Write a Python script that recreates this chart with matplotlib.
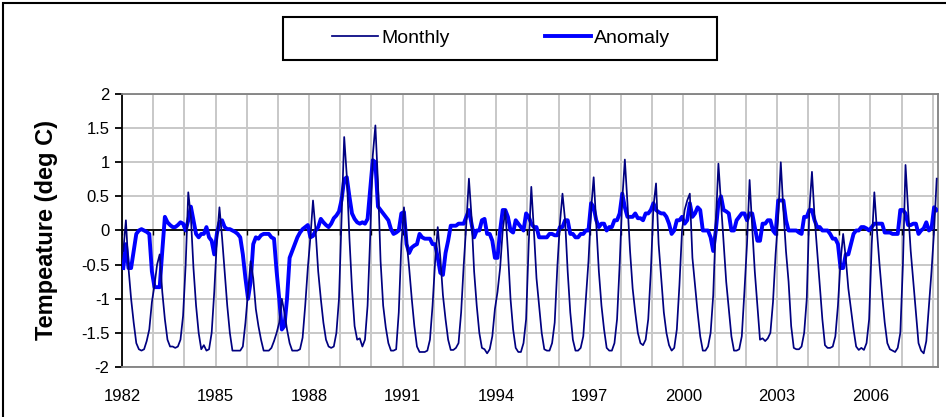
import numpy as np
import matplotlib
matplotlib.use('Agg')  # no display
import matplotlib.pyplot as plt
from matplotlib.patches import Rectangle

plt.rcParams['font.family'] = ['Liberation Sans', 'DejaVu Sans']

# monthly values, Jan 1982 .. Feb 2008 (one row per year)
monthly = [
    -0.3, 0.15, -0.55, -1.0, -1.35, -1.65, -1.74, -1.76, -1.74, -1.62, -1.45, -1.05,   # 1982
    -0.8, -0.5, -0.35, -0.9, -1.3, -1.6, -1.7, -1.7, -1.72, -1.7, -1.6, -1.25,         # 1983
    -0.5, 0.56, 0.2, -0.55, -1.1, -1.5, -1.74, -1.68, -1.76, -1.74, -1.5, -0.9,        # 1984
    -0.15, 0.34, -0.1, -0.6, -1.1, -1.5, -1.76, -1.76, -1.76, -1.76, -1.7, -1.35,      # 1985
    -0.9, -0.45, -0.7, -1.15, -1.4, -1.6, -1.76, -1.76, -1.76, -1.72, -1.62, -1.5,     # 1986
    -1.35, -1.0, -1.2, -1.45, -1.65, -1.76, -1.76, -1.76, -1.74, -1.57, -1.1, -0.55,   # 1987
    -0.1, 0.44, 0.0, -0.6, -1.0, -1.35, -1.6, -1.7, -1.72, -1.7, -1.5, -1.0,           # 1988
    0.2, 1.37, 0.8, -0.1, -0.85, -1.4, -1.6, -1.58, -1.7, -1.6, -1.1, -0.1,            # 1989
    1.1, 1.54, 0.7, -0.45, -1.1, -1.42, -1.65, -1.76, -1.76, -1.74, -1.2, -0.2,        # 1990
    0.34, -0.15, -0.55, -1.0, -1.4, -1.7, -1.78, -1.78, -1.78, -1.76, -1.6, -1.1,      # 1991
    -0.45, 0.05, -0.4, -0.95, -1.3, -1.6, -1.75, -1.75, -1.72, -1.65, -1.2, -0.5,      # 1992
    0.1, 0.76, 0.2, -0.6, -1.1, -1.5, -1.72, -1.74, -1.8, -1.74, -1.55, -1.15,         # 1993
    -0.9, -0.55, 0.0, 0.3, -0.3, -1.0, -1.45, -1.72, -1.78, -1.78, -1.65, -1.3,        # 1994
    -0.2, 0.64, 0.0, -0.7, -1.1, -1.5, -1.74, -1.76, -1.76, -1.65, -1.35, -0.55,       # 1995
    0.1, 0.54, 0.15, -0.6, -1.2, -1.6, -1.76, -1.76, -1.72, -1.55, -1.0, -0.45,        # 1996
    0.3, 0.78, 0.1, -0.6, -1.1, -1.45, -1.72, -1.76, -1.76, -1.65, -1.3, -0.5,         # 1997
    0.45, 1.04, 0.4, -0.3, -0.85, -1.2, -1.5, -1.65, -1.68, -1.6, -1.3, -0.6,          # 1998
    0.35, 0.69, -0.2, -0.7, -1.2, -1.5, -1.68, -1.76, -1.72, -1.45, -0.8, 0.0,         # 1999
    0.3, 0.44, 0.54, -0.4, -0.8, -1.2, -1.55, -1.76, -1.76, -1.7, -1.5, -0.95,         # 2000
    0.1, 0.98, 0.4, -0.2, -0.75, -1.15, -1.55, -1.76, -1.76, -1.74, -1.55, -0.9,       # 2001
    -0.2, 0.74, 0.05, -0.6, -1.1, -1.6, -1.58, -1.62, -1.58, -1.5, -1.05, -0.35,       # 2002
    0.2, 1.0, 0.3, -0.3, -0.75, -1.4, -1.72, -1.74, -1.74, -1.7, -1.5, -1.0,           # 2003
    0.3, 0.86, 0.2, -0.3, -0.8, -1.3, -1.68, -1.72, -1.72, -1.7, -1.55, -1.1,          # 2004
    -0.45, -0.05, -0.4, -0.85, -1.15, -1.45, -1.7, -1.75, -1.72, -1.75, -1.65, -1.3,   # 2005
    -0.2, 0.56, 0.0, -0.5, -0.95, -1.35, -1.65, -1.74, -1.76, -1.78, -1.72, -1.5,      # 2006
    -0.5, 0.96, 0.3, -0.3, -0.75, -1.2, -1.65, -1.76, -1.8, -1.62, -1.1, -0.6,         # 2007
    0.0, 0.76,                                                                          # 2008
]

# anomaly values, same months
anomaly = [
    -0.55, -0.2, -0.55, -0.55, -0.3, -0.05, 0.0, 0.02, 0.0, -0.02, -0.05, -0.6,        # 1982
    -0.83, -0.83, -0.83, -0.3, 0.2, 0.12, 0.08, 0.05, 0.05, 0.08, 0.12, 0.1,           # 1983
    0.0, 0.15, 0.35, 0.15, -0.05, -0.1, -0.05, -0.05, 0.05, -0.1, -0.15, -0.35,        # 1984
    -0.05, 0.12, 0.15, 0.05, 0.02, 0.02, 0.0, -0.02, -0.05, -0.1, -0.35, -0.7,         # 1985
    -1.0, -0.75, -0.2, -0.1, -0.12, -0.07, -0.05, -0.05, -0.05, -0.1, -0.12, -0.6,     # 1986
    -1.0, -1.45, -1.4, -1.0, -0.4, -0.3, -0.2, -0.1, -0.03, 0.02, 0.05, 0.08,          # 1987
    -0.1, -0.08, 0.0, 0.05, 0.17, 0.12, 0.08, 0.05, 0.1, 0.18, 0.22, 0.28,             # 1988
    0.45, 0.75, 0.78, 0.5, 0.25, 0.17, 0.12, 0.1, 0.12, 0.1, 0.17, 0.6,                # 1989
    1.03, 1.0, 0.35, 0.3, 0.25, 0.2, 0.15, 0.02, -0.05, -0.03, 0.0, 0.25,              # 1990
    0.27, -0.2, -0.33, -0.25, -0.22, -0.2, -0.05, -0.1, -0.12, -0.12, -0.12, -0.2,     # 1991
    -0.2, -0.4, -0.62, -0.65, -0.33, -0.15, 0.07, 0.07, 0.07, 0.1, 0.1, 0.1,           # 1992
    0.2, 0.3, 0.1, -0.1, 0.0, 0.0, 0.15, 0.17, -0.05, -0.05, -0.15, -0.4,              # 1993
    -0.4, 0.0, 0.3, 0.3, 0.2, 0.0, -0.03, 0.15, 0.1, 0.05, 0.0, 0.25,                  # 1994
    0.2, 0.1, 0.05, 0.05, -0.1, -0.1, -0.1, -0.1, -0.05, -0.05, -0.07, -0.07,          # 1995
    0.05, 0.05, 0.15, 0.15, -0.05, -0.05, -0.1, -0.1, -0.05, -0.05, 0.0, 0.0,          # 1996
    0.4, 0.34, 0.15, 0.05, 0.1, 0.1, 0.0, 0.05, 0.05, 0.15, 0.15, 0.25,                # 1997
    0.54, 0.34, 0.2, 0.2, 0.2, 0.25, 0.18, 0.18, 0.15, 0.25, 0.25, 0.3,                # 1998
    0.4, 0.3, 0.27, 0.25, 0.25, 0.2, 0.1, -0.05, 0.0, 0.15, 0.15, 0.2,                 # 1999
    0.1, 0.15, 0.4, 0.2, 0.25, 0.34, 0.3, 0.0, 0.0, 0.0, -0.1, -0.3,                   # 2000
    0.0, 0.4, 0.5, 0.3, 0.28, 0.25, 0.0, 0.0, 0.15, 0.2, 0.25, 0.25,                   # 2001
    0.15, 0.25, 0.25, 0.05, -0.15, -0.15, 0.1, 0.1, 0.15, 0.15, 0.0, -0.05,            # 2002
    0.44, 0.44, 0.44, 0.15, 0.0, 0.0, 0.0, 0.0, -0.03, -0.05, 0.2, 0.2,                # 2003
    0.3, 0.3, 0.15, 0.05, 0.05, 0.0, 0.0, 0.0, -0.05, -0.12, -0.12, -0.2,              # 2004
    -0.55, -0.55, -0.35, -0.35, -0.2, -0.05, 0.0, 0.0, 0.05, 0.05, 0.03, 0.0,          # 2005
    0.05, 0.1, 0.1, 0.1, 0.1, -0.03, -0.03, -0.03, -0.05, -0.05, -0.05, 0.3,           # 2006
    0.3, 0.25, 0.08, 0.08, 0.1, 0.1, -0.05, 0.0, 0.03, 0.12, 0.0, 0.03,                # 2007
    0.34, 0.3,                                                                          # 2008
]

start_year = 1982
years = list(range(1982, 2009))
label_years = [1982, 1985, 1988, 1991, 1994, 1997, 2000, 2003, 2006]
y_ticks = [2, 1.5, 1, 0.5, 0, -0.5, -1, -1.5, -2]

n = len(monthly)
t = start_year + (np.arange(n) + 0.5) / 12

W, H = 946, 417
fig = plt.figure(figsize=(W / 100, H / 100), dpi=100)
ax = fig.add_axes([122 / W, 1 - 367 / H, (938 - 122) / W, (367 - 94) / H])

# outer chart frame (right/bottom edges fall outside the image)
fig.patches.append(Rectangle((3 / W, -0.05), 1.2, (1 - 3 / H) + 0.05,
                             transform=fig.transFigure, fill=False,
                             edgecolor='black', linewidth=1.5))
# legend box
fig.patches.append(Rectangle((283 / W, 1 - 60 / H), (717 - 283) / W, 43 / H,
                             transform=fig.transFigure, fill=False,
                             edgecolor='black', linewidth=1.5))

ax.plot(t, anomaly, color='#0000FF', lw=2.8, label='Anomaly', zorder=3)
ax.plot(t, monthly, color='#000080', lw=1.25, label='Monthly', zorder=4)

# category axis crosses at zero, with small year ticks
ax.axhline(0, color='black', lw=1.3, zorder=2.5)
ax.vlines(years, -0.07, 0, color='black', lw=1.0, zorder=2.5)

ax.set_xlim(start_year, start_year + n / 12)
ax.set_ylim(-2, 2)

ax.set_xticks(years)
ax.set_xticklabels([str(y) if y in label_years else '' for y in years])
ax.set_yticks(y_ticks)
ax.set_yticklabels([f'{v:g}' for v in y_ticks])
ax.tick_params(axis='x', length=0, pad=16, labelsize=12)
ax.tick_params(axis='y', length=5, width=1.3, direction='out', pad=4,
               labelsize=12, color='black')

ax.grid(True, color='#C8C8C8', lw=1.4)
ax.set_axisbelow(True)
for side in ['top', 'right', 'bottom']:
    ax.spines[side].set_color('#808080')
    ax.spines[side].set_linewidth(1.3)
ax.spines['left'].set_color('black')
ax.spines['left'].set_linewidth(1.3)

fig.text(47 / W, 1 - 230 / H, 'Tempeature (deg C)', rotation=90,
         ha='center', va='center', fontsize=17, fontweight='bold')

handles, labels = ax.get_legend_handles_labels()
leg = fig.legend(handles[::-1], labels[::-1], loc='center',
                 bbox_to_anchor=(501 / W, 1 - 38.5 / H), ncol=2,
                 fontsize=14, frameon=False, handlelength=2.4,
                 handletextpad=0.15, columnspacing=4.9, borderpad=0.2)

fig.savefig('out.png', dpi=100)
